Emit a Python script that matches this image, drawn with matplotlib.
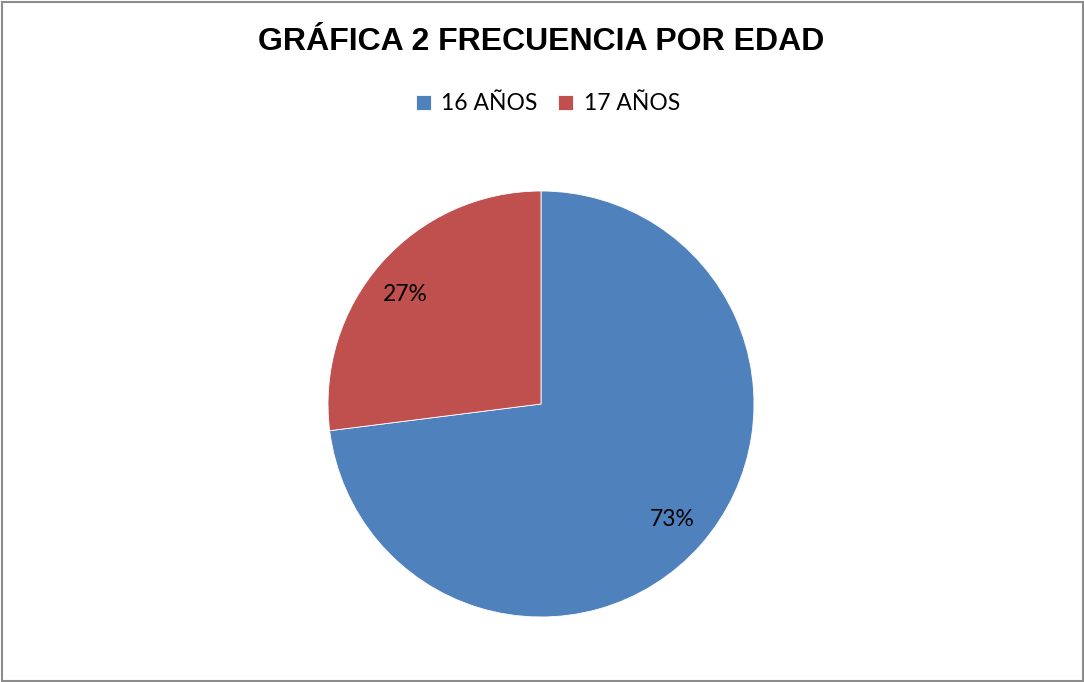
#!/usr/bin/env python3
"""Pie chart: frecuencia por edad."""
import matplotlib
matplotlib.use("Agg")
import matplotlib.pyplot as plt
from matplotlib.patches import Rectangle

labels = ["16 AÑOS", "17 AÑOS"]
values = [73, 27]
colors = ["#4F81BD", "#C0504D"]

W, H = 1084, 682
fig = plt.figure(figsize=(W / 100, H / 100), dpi=100)

# pie centre (541, 404) px, radius 213 px
cx, cy, r = 541, 404, 213
ax = fig.add_axes([(cx - r) / W, (H - cy - r) / H, 2 * r / W, 2 * r / H])
wedges, _, autotexts = ax.pie(values, colors=colors, startangle=90,
                              counterclock=False, autopct="%1.0f%%",
                              pctdistance=0.82, radius=1,
                              wedgeprops=dict(edgecolor="white", linewidth=0.6),
                              textprops=dict(fontsize=16.5, family="Lato",
                                             color="black"))
# nudge the small slice label a bit outward/down like the reference
autotexts[1].set_position((autotexts[1].get_position()[0] - 0.02,
                           autotexts[1].get_position()[1] - 0.03))
ax.set_xlim(-1, 1)
ax.set_ylim(-1, 1)
ax.set_aspect("equal")
ax.axis("off")

fig.text(541 / W, 1 - 42 / H, "GRÁFICA 2 FRECUENCIA POR EDAD",
         ha="center", va="center", fontsize=23, fontweight="bold",
         family="Liberation Sans")

fig.legend(wedges, labels, loc="center", bbox_to_anchor=(548 / W, 1 - 104 / H),
           ncol=2, frameon=False, prop=dict(family="Lato", size=16.5),
           handlelength=0.65, handleheight=0.65, handletextpad=0.45,
           columnspacing=0.9)

fig.patches.append(Rectangle((1.5 / W, 1.5 / H), (W - 3) / W, (H - 3) / H,
                             transform=fig.transFigure, fill=False,
                             edgecolor="#8c8c8c", linewidth=1.5))

fig.savefig("out.png", dpi=100)
